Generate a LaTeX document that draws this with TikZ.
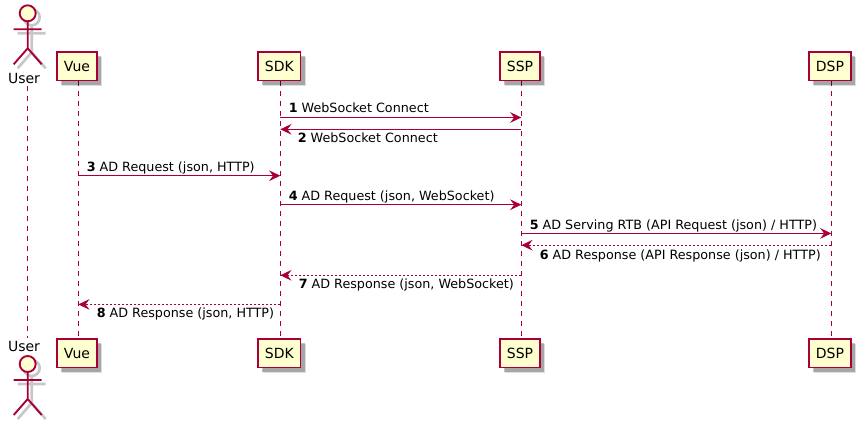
\documentclass[tikz,border=0pt]{standalone}
\usepackage{fontspec}
\setmainfont{DejaVu Sans}
\usetikzlibrary{
  arrows.meta,
  positioning,
  backgrounds,
  shadows
}
\definecolor{umlLine}{HTML}{A80036}
\definecolor{umlFill}{HTML}{FEFECE}
\tikzset{
  partbox/.style={
    draw=umlLine, fill=umlFill, line width=1.1pt, minimum height=21.5pt, inner xsep=0pt,
    font=\fontsize{10.5pt}{12pt}\selectfont, text=black,
    drop shadow={shadow xshift=3.9pt, shadow yshift=-3.9pt, fill=black, opacity=.13},
    drop shadow={shadow xshift=2.9pt, shadow yshift=-2.9pt, fill=black, opacity=.25}
  },
  actorname/.style={font=\fontsize{10.5pt}{12pt}\selectfont, text=black, inner sep=0pt},
  lifeline/.style={umlLine, line width=.75pt, dash pattern=on 3.75pt off 3.75pt},
  msg/.style={-{Stealth[length=8.4pt, width=8pt, inset=3pt]}, umlLine, line width=.8pt},
  reply/.style={msg, dash pattern=on 1.5pt off 1.5pt},
  msgtext/.style={font=\fontsize{9.55pt}{12pt}\selectfont, anchor=base west, inner sep=0pt, text=black},
  pics/stickman/.style={code={
    \begin{scope}[shift={(4,4)}, black!22, line width=2pt, fill=black!22]
      \draw (0,0) circle (8);
      \draw (0,8) -- (0,35) (-14,16) -- (14,16) (-14,51) -- (0,35) -- (14,51);
    \end{scope}
    \draw[umlLine, line width=1.4pt, fill=umlFill] (0,0) circle (8);
    \draw[umlLine, line width=1.4pt] (0,8) -- (0,35) (-14,16) -- (14,16) (-14,51) -- (0,35) -- (14,51);
  }}
}
\begin{document}
\begin{tikzpicture}[x=.75pt, y=-.75pt]
  \useasboundingbox (0,0) rectangle (861,425);
  % top row
  \pic at (27.7,13.3) {stickman};
  \node[actorname] (user) at (24,78) {User};
  \node[partbox, minimum width=29.9pt] (vue) at (77,66.3) {Vue};
  \node[partbox, minimum width=32pt] (sdk) at (279.3,66.3) {SDK};
  \node[partbox, minimum width=29.9pt] (ssp) at (520,66.3) {SSP};
  \node[partbox, minimum width=31.4pt] (dsp) at (830,66.3) {DSP};
  % bottom row
  \node[actorname] (user2) at (24,346) {User};
  \pic at (27.7,364) {stickman};
  \node[partbox, minimum width=29.9pt] (vue2) at (77,353.3) {Vue};
  \node[partbox, minimum width=32pt] (sdk2) at (279.3,353.3) {SDK};
  \node[partbox, minimum width=29.9pt] (ssp2) at (520,353.3) {SSP};
  \node[partbox, minimum width=31.4pt] (dsp2) at (830,353.3) {DSP};
  % lifelines
  \coordinate (userT) at (27.7,86);
  \coordinate (userB) at (27.7,338);
  \coordinate (vueT) at ([xshift=1pt]vue.south);
  \coordinate (sdkT) at ([xshift=.75pt]sdk.south);
  \coordinate (sspT) at ([xshift=1pt]ssp.south);
  \coordinate (dspT) at ([xshift=1pt]dsp.south);
  \begin{scope}[on background layer]
    \draw[lifeline] (userT) -- (userB);
    \draw[lifeline] (vueT) -- (vueT |- vue2.north);
    \draw[lifeline] (sdkT) -- (sdkT |- sdk2.north);
    \draw[lifeline] (sspT) -- (sspT |- ssp2.north);
    \draw[lifeline] (dspT) -- (dspT |- dsp2.north);
  \end{scope}
  % message rows
  \coordinate (m1) at (0,117.5);
  \coordinate (m2) at (0,129.3);
  \coordinate (m3) at (0,175.7);
  \coordinate (m4) at (0,204.7);
  \coordinate (m5) at (0,233.4);
  \coordinate (m6) at (0,245.2);
  \coordinate (m7) at (0,275.3);
  \coordinate (m8) at (0,304.4);
  \draw[msg] (sdkT |- m1) -- (sspT |- m1);
  \draw[msg] (sspT |- m2) -- (sdkT |- m2);
  \draw[msg] (vueT |- m3) -- (sdkT |- m3);
  \draw[msg] (sdkT |- m4) -- (sspT |- m4);
  \draw[msg] (sspT |- m5) -- (dspT |- m5);
  \draw[reply] (dspT |- m6) -- (sspT |- m6);
  \draw[reply] (sspT |- m7) -- (sdkT |- m7);
  \draw[reply] (sdkT |- m8) -- (vueT |- m8);
  \node[msgtext] (t1) at (288.5,112) {\textbf{1} WebSocket Connect};
  \node[msgtext] (t2) at (297.5,142) {\textbf{2} WebSocket Connect};
  \node[msgtext] (t3) at (86.5,171) {\textbf{3} AD Request (json, HTTP)};
  \node[msgtext] (t4) at (288.5,200) {\textbf{4} AD Request (json, WebSocket)};
  \node[msgtext] (t5) at (529.5,229) {\textbf{5} AD Serving RTB (API Request (json) / HTTP)};
  \node[msgtext] (t6) at (539.5,259) {\textbf{6} AD Response (API Response (json) / HTTP)};
  \node[msgtext] (t7) at (298.5,288) {\textbf{7} AD Response (json, WebSocket)};
  \node[msgtext] (t8) at (96.5,317) {\textbf{8} AD Response (json, HTTP)};
\end{tikzpicture}
\end{document}
